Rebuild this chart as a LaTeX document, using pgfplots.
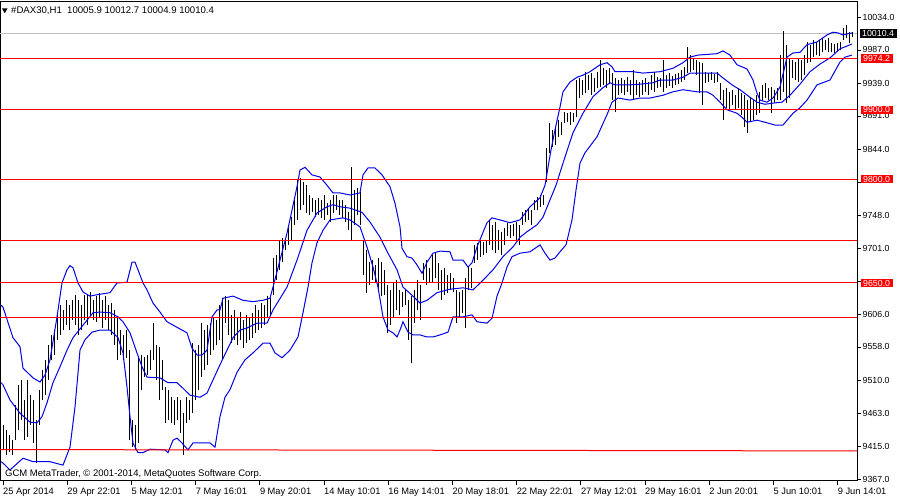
\documentclass[border=0pt]{standalone}
\usepackage{fontspec}
\setmainfont{Liberation Sans}
\usepackage{pgfplots}
\usepackage{pgfplotstable}
\pgfplotsset{compat=1.18}
\definecolor{bandblue}{RGB}{0,0,230}
\definecolor{mtred}{RGB}{255,0,0}
\definecolor{curgrey}{RGB}{192,192,192}

\pgfplotstableread{
x lo hi
3 9409 9445
6 9402 9438
9 9406 9431
12 9402 9423
15 9423 9474
18 9438 9503
21 9452 9510
24 9423 9481
27 9428 9510
30 9445 9488
33 9419 9481
36 9390 9452
39 9445 9496
42 9481 9524
45 9488 9539
48 9510 9560
51 9539 9575
54 9546 9582
57 9568 9604
60 9575 9618
63 9582 9611
66 9589 9625
69 9582 9618
72 9597 9625
75 9589 9633
78 9575 9625
81 9582 9618
84 9597 9633
87 9589 9633
90 9604 9637
93 9597 9625
96 9594 9631
99 9599 9636
102 9585 9625
105 9597 9631
108 9582 9618
111 9575 9621
114 9560 9611
117 9539 9601
120 9546 9582
123 9539 9575
126 9542 9582
129 9423 9553
132 9413 9452
135 9409 9445
138 9419 9543
141 9496 9546
144 9514 9543
147 9517 9546
150 9524 9553
153 9539 9592
156 9510 9560
159 9481 9558
162 9496 9539
165 9448 9500
168 9452 9496
171 9448 9485
174 9445 9481
177 9452 9485
180 9433 9481
183 9402 9462
186 9448 9485
189 9452 9481
192 9462 9563
195 9481 9553
198 9496 9560
201 9514 9592
204 9524 9582
207 9532 9589
210 9546 9592
213 9553 9601
216 9560 9597
219 9568 9618
222 9539 9628
225 9592 9631
228 9575 9625
231 9563 9604
234 9568 9611
237 9560 9599
240 9568 9608
243 9556 9597
246 9563 9604
249 9568 9599
252 9571 9607
255 9578 9618
258 9582 9611
261 9585 9621
264 9589 9618
267 9601 9631
270 9604 9628
273 9633 9686
276 9654 9690
279 9669 9712
282 9680 9715
285 9698 9712
288 9705 9734
291 9712 9745
294 9734 9770
297 9741 9799
300 9755 9801
303 9763 9796
306 9751 9791
309 9748 9777
312 9752 9773
315 9745 9770
318 9748 9773
321 9744 9770
324 9741 9777
327 9748 9765
330 9738 9770
333 9751 9777
336 9755 9777
339 9748 9770
342 9744 9770
345 9738 9763
348 9726 9752
351 9712 9817
354 9734 9784
357 9748 9787
360 9734 9781
363 9662 9712
366 9636 9698
369 9647 9680
372 9654 9683
375 9650 9676
378 9637 9686
381 9631 9680
384 9633 9669
387 9578 9647
390 9589 9640
393 9601 9650
396 9611 9654
399 9604 9640
402 9615 9637
405 9618 9640
408 9568 9625
411 9534 9631
414 9592 9640
417 9611 9654
420 9597 9647
423 9654 9679
426 9647 9683
429 9651 9672
432 9650 9690
435 9657 9693
438 9640 9679
441 9625 9669
444 9633 9672
447 9636 9662
450 9640 9664
453 9637 9657
456 9592 9640
459 9599 9637
462 9607 9640
465 9585 9657
468 9640 9673
471 9643 9672
474 9679 9705
477 9683 9708
480 9688 9712
483 9690 9709
486 9693 9712
489 9705 9741
492 9698 9734
495 9693 9738
498 9698 9726
501 9690 9724
504 9705 9729
507 9718 9737
510 9715 9734
513 9718 9735
516 9712 9738
519 9705 9734
522 9734 9752
525 9738 9755
528 9741 9758
531 9734 9755
534 9755 9770
537 9755 9774
540 9760 9777
543 9763 9777
546 9796 9845
549 9838 9881
552 9846 9871
555 9849 9874
558 9861 9885
561 9864 9882
564 9881 9897
567 9882 9895
570 9878 9897
573 9882 9895
576 9890 9943
579 9917 9946
582 9921 9943
585 9924 9955
588 9929 9950
591 9921 9953
594 9926 9946
597 9932 9955
600 9933 9972
603 9936 9960
606 9932 9957
609 9937 9960
612 9914 9953
615 9897 9946
618 9921 9943
621 9924 9946
624 9921 9943
627 9926 9947
630 9921 9943
633 9914 9957
636 9921 9943
639 9919 9940
642 9921 9943
645 9926 9946
648 9921 9940
651 9929 9950
654 9926 9955
657 9932 9947
660 9933 9946
663 9926 9972
666 9932 9950
669 9934 9953
672 9932 9949
675 9936 9952
678 9937 9953
681 9940 9957
684 9943 9962
687 9953 9991
690 9955 9979
693 9957 9975
696 9950 9972
699 9924 9969
702 9907 9968
705 9939 9955
708 9940 9953
711 9943 9955
714 9939 9952
717 9940 9955
720 9914 9939
723 9885 9929
726 9903 9932
729 9900 9926
732 9907 9929
735 9900 9921
738 9903 9932
741 9893 9924
744 9875 9921
747 9867 9914
750 9882 9918
753 9885 9914
756 9893 9921
759 9895 9926
762 9914 9936
765 9917 9939
768 9914 9932
771 9895 9933
774 9910 9929
777 9914 9932
780 9914 9979
783 9926 10014
786 9910 9994
789 9917 9975
792 9946 9972
795 9943 9969
798 9940 9975
801 9943 9972
804 9950 9979
807 9968 9998
810 9969 9994
813 9976 10001
816 9979 9998
819 9978 10001
822 9983 10004
825 9986 10001
828 9983 10004
831 9983 9996
834 9982 9995
837 9983 9996
840 9986 9998
843 10001 10018
846 10004 10022
849 9996 10012
852 10004.9 10012.7
}\bars

\pgfplotstableread{
x y
1 9618
3 9615
13 9571
20 9558
23 9527
33 9513
40 9507
45 9517
50 9539
57 9601
62 9650
67 9669
70 9675
73 9672
78 9650
83 9637
90 9631
97 9633
110 9636
117 9650
127 9651
132 9680
135 9680
138 9669
143 9650
147 9640
153 9621
160 9608
167 9594
177 9586
187 9578
192 9556
197 9546
202 9546
207 9553
212 9601
217 9611
220 9611
223 9628
233 9631
243 9625
253 9623
263 9625
270 9628
273 9644
280 9683
287 9722
292 9755
297 9789
300 9813
305 9817
312 9806
320 9803
327 9791
333 9780
340 9780
350 9777
360 9780
363 9806
368 9816
375 9816
382 9806
390 9789
395 9765
400 9731
402 9700
407 9688
412 9686
417 9676
422 9664
427 9680
433 9693
440 9696
450 9695
453 9683
463 9683
468 9673
472 9679
477 9702
487 9737
492 9744
500 9741
510 9737
520 9741
530 9760
540 9773
545 9791
548 9817
551 9842
555 9871
560 9904
563 9926
570 9940
577 9947
583 9950
590 9955
600 9965
607 9968
612 9962
615 9955
623 9955
633 9955
643 9953
660 9955
673 9960
683 9968
690 9976
698 9979
717 9981
723 9985
730 9979
737 9965
747 9959
753 9943
757 9924
760 9914
767 9911
773 9917
780 9933
787 9976
793 9982
800 9983
807 9994
817 9998
827 10008
833 10012
838 10011
843 10008
852 10011
}\upperband

\pgfplotstableread{
x y
1 9506
3 9503
10 9481
20 9462
30 9449
37 9448
42 9457
47 9477
53 9506
60 9529
67 9553
73 9571
83 9589
93 9607
100 9608
110 9607
118 9601
123 9594
130 9578
137 9549
142 9529
147 9514
160 9513
168 9506
177 9506
183 9498
190 9488
200 9485
207 9491
213 9510
220 9532
227 9553
233 9571
240 9582
247 9585
257 9592
267 9592
273 9611
287 9644
297 9683
307 9726
317 9751
327 9760
333 9763
340 9760
350 9758
362 9752
370 9738
380 9716
388 9693
397 9669
403 9644
413 9631
420 9621
427 9625
437 9636
450 9641
463 9643
473 9640
483 9654
493 9669
503 9688
513 9702
520 9716
527 9724
537 9734
543 9745
550 9770
556 9791
563 9823
573 9867
583 9895
593 9919
603 9932
610 9939
615 9936
630 9936
640 9937
653 9939
660 9943
673 9943
683 9947
690 9953
717 9953
723 9946
732 9936
740 9929
750 9918
757 9911
765 9908
775 9910
782 9911
790 9921
800 9937
810 9955
820 9966
830 9975
840 9988
852 9995
}\middleband

\pgfplotstableread{
x y
1 9392
3 9390
10 9380
23 9397
33 9392
50 9392
63 9387
70 9413
75 9471
78 9520
80 9553
85 9568
92 9579
100 9582
110 9582
118 9571
123 9549
127 9500
130 9457
133 9419
138 9405
143 9405
150 9410
165 9409
168 9405
173 9423
177 9426
182 9419
188 9409
193 9419
210 9419
215 9413
220 9457
225 9485
230 9496
237 9521
245 9539
253 9549
263 9563
270 9563
275 9549
282 9542
290 9553
298 9572
303 9607
308 9644
312 9679
317 9708
323 9726
330 9741
343 9744
350 9741
360 9731
367 9702
373 9673
378 9644
383 9601
388 9582
393 9578
397 9572
400 9582
403 9594
408 9579
413 9575
420 9575
427 9572
433 9572
440 9575
448 9579
453 9601
463 9601
472 9604
477 9594
487 9592
492 9599
497 9631
502 9650
507 9673
512 9688
520 9693
530 9695
540 9705
545 9693
550 9683
555 9686
560 9695
566 9705
572 9741
576 9784
580 9823
585 9838
597 9861
607 9893
612 9911
618 9917
630 9914
640 9917
650 9917
663 9921
673 9926
683 9929
697 9926
707 9926
713 9921
720 9911
727 9900
737 9895
743 9888
747 9882
757 9885
765 9882
775 9878
783 9878
793 9895
800 9903
807 9914
817 9936
830 9943
840 9969
845 9976
852 9979
}\lowerband

\begin{document}
\begin{tikzpicture}[font=\fontsize{8.8}{10.5}\selectfont]
\useasboundingbox (0,0) rectangle (900pt,500pt);
\begin{axis}[
  at={(0pt,19pt)}, anchor=south west,
  x=1pt, y=0.69266pt,
  xmin=0, xmax=857, ymin=9364.1, ymax=10057,
  axis line style={black, line width=1pt},
  xtick={3,67.2,131.4,195.6,259.8,324,388.2,452.4,516.6,580.8,645,709.2,773.4,837.6},
  xticklabels={25 Apr 2014,29 Apr 22:01,5 May 12:01,7 May 16:01,9 May 20:01,14 May 10:01,16 May 14:01,20 May 18:01,22 May 22:01,27 May 12:01,29 May 16:01,2 Jun 20:01,5 Jun 10:01,9 Jun 14:01},
  ytick={9367,9414.6,9462.3,9509.9,9557.6,9605.2,9700.5,9748.1,9843.4,9891.1,9938.7,9986.4,10034},
  yticklabels={9367.0,9415.0,9463.0,9510.0,9558.0,9606.0,9701.0,9748.0,9844.0,9891.0,9939.0,9987.0,10034.0},
  xtick pos=left, ytick pos=right, yticklabel pos=right,
  tick align=outside, major tick length=4pt,
  tick style={black, line width=0.8pt},
  xticklabel style={anchor=north west, inner xsep=0pt, inner ysep=2.5pt, font=\fontsize{9.3}{10.5}\selectfont},
  yticklabel style={anchor=west, inner xsep=1.5pt, font=\fontsize{8.8}{10.5}\selectfont},
  clip=true,
]
\addplot[curgrey, line width=1pt] coordinates {(0,10010.4) (857,10010.4)};
\addplot[draw=none, mark=none, error bars/.cd, y dir=plus, y explicit, error mark=none, error bar style={draw=black, line width=1pt}] table[x=x, y=lo, y error expr=\thisrow{hi}-\thisrow{lo}] {\bars};
\addplot[bandblue, line width=1pt] table[x=x,y=y] {\upperband};
\addplot[bandblue, line width=1pt] table[x=x,y=y] {\middleband};
\addplot[bandblue, line width=1pt] table[x=x,y=y] {\lowerband};
\addplot[mtred, line width=1pt] coordinates {(0,9974.2) (857,9974.2)};
\addplot[mtred, line width=1pt] coordinates {(0,9900) (857,9900)};
\addplot[mtred, line width=1pt] coordinates {(0,9800) (857,9800)};
\addplot[mtred, line width=1pt] coordinates {(0,9710.6) (857,9710.6)};
\addplot[mtred, line width=1pt] coordinates {(0,9650) (857,9650)};
\addplot[mtred, line width=1pt] coordinates {(0,9600) (857,9600)};
\addplot[mtred, line width=1pt] coordinates {(0,9409.5) (857,9407.5)};
\coordinate (c0) at (axis cs:857,10010.4);
\coordinate (c1) at (axis cs:857,9974.2);
\coordinate (c2) at (axis cs:857,9900);
\coordinate (c3) at (axis cs:857,9800);
\coordinate (c4) at (axis cs:857,9650);
\end{axis}
\draw[black, line width=0.8pt] (857pt,19pt) ++(0,{(9652.9-9364.1)*0.69266pt}) -- ++(4pt,0);
\draw[black, line width=0.8pt] (857pt,19pt) ++(0,{(9795.8-9364.1)*0.69266pt}) -- ++(4pt,0);
\tikzset{pricebox/.style={anchor=west, text=white, inner xsep=2.5pt, inner ysep=1pt, text height=6.4pt, text depth=0pt, font=\fontsize{8.8}{10.5}\selectfont}}
\node[pricebox, fill=black] at ([xshift=2.5pt]c0) {10010.4};
\node[pricebox, fill=mtred] at ([xshift=3.5pt]c1) {9974.2};
\node[pricebox, fill=mtred] at ([xshift=3.5pt]c2) {9900.0};
\node[pricebox, fill=mtred] at ([xshift=3.5pt]c3) {9800.0};
\node[pricebox, fill=mtred] at ([xshift=3.5pt]c4) {9650.0};
\fill[black] (2pt,491.5pt) -- (7.5pt,491.5pt) -- (4.75pt,486.8pt) -- cycle;
\node[anchor=west, inner sep=0pt, font=\fontsize{9.6}{11}\selectfont] at (11pt,489.5pt) {\#DAX30,H1\ \ 10005.9 10012.7 10004.9 10010.4};
\node[anchor=west, inner sep=0pt, font=\fontsize{9.5}{11}\selectfont] at (5pt,26pt) {GCM MetaTrader, \textcopyright{} 2001-2014, MetaQuotes Software Corp.};
\end{tikzpicture}
\end{document}
